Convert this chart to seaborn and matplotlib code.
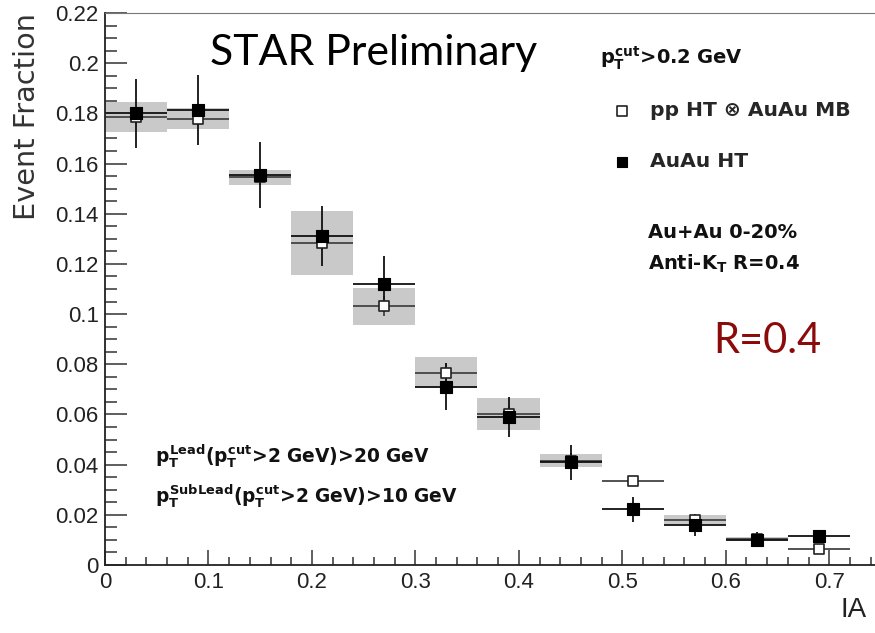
import numpy as np
import pandas as pd
import matplotlib
matplotlib.use("Agg")
import matplotlib.pyplot as plt
import seaborn as sns
from matplotlib.ticker import MultipleLocator, FuncFormatter

# ---------------- data ----------------
ia_bin_centers = [0.03, 0.09, 0.15, 0.21, 0.27, 0.33, 0.39, 0.45, 0.51, 0.57, 0.63, 0.69]
ia_bin_half_width = [0.03] * 12

pp_embed_values = [0.1787, 0.1778, 0.1545, 0.1284, 0.1031, 0.0767, 0.0601, 0.0416, 0.0335, 0.0178, 0.0103, 0.0063]
pp_embed_stat = [0.003, 0.003, 0.003, 0.003, 0.004, 0.004, 0.003, 0.003, 0.001, 0.002, 0.001, 0.001]
pp_embed_sys = [0.0060, 0.0042, 0.0030, 0.0128, 0.0074, 0.0063, 0.0063, 0.0027, 0.0, 0.0020, 0.0008, 0.0]

auau_ht_values = [0.1800, 0.1813, 0.1554, 0.1311, 0.1120, 0.0711, 0.0589, 0.0409, 0.0223, 0.0159, 0.0100, 0.0116]
auau_ht_stat = [0.0138, 0.0140, 0.0130, 0.0120, 0.0110, 0.0093, 0.0079, 0.0070, 0.0050, 0.0045, 0.0030, 0.0024]

legend_labels = ["pp HT \u2297 AuAu MB", "AuAu HT"]
y_ticks_major = 0.02
x_ticks_major = 0.1

df_pp = pd.DataFrame({"IA": ia_bin_centers, "frac": pp_embed_values})
df_au = pd.DataFrame({"IA": ia_bin_centers, "frac": auau_ht_values})

# ---------------- style ----------------
sns.set_theme(style="white")
plt.rcParams["font.family"] = ["Liberation Sans", "DejaVu Sans"]
plt.rcParams["mathtext.fontset"] = "custom"
plt.rcParams["mathtext.rm"] = "DejaVu Sans:bold"
plt.rcParams["mathtext.it"] = "DejaVu Sans:bold"
plt.rcParams["mathtext.bf"] = "DejaVu Sans:bold"

W, H = 875, 633
fig = plt.figure(figsize=(W / 100, H / 100), dpi=100)
ax = fig.add_axes([105 / W, (H - 565) / H, 776 / W, 552 / H])

# systematic boxes (pp HT (x) AuAu MB)
sys_arr = np.array(pp_embed_sys)
ax.bar(ia_bin_centers, 2 * sys_arr, bottom=np.array(pp_embed_values) - sys_arr,
       width=[2 * w for w in ia_bin_half_width], color="#c9c9c9", linewidth=0, zorder=1)

# error bars
ax.errorbar(ia_bin_centers, pp_embed_values, xerr=ia_bin_half_width, yerr=pp_embed_stat,
            fmt="none", ecolor="#444444", elinewidth=1.3, capsize=0, zorder=2)
ax.errorbar(ia_bin_centers, auau_ht_values, xerr=ia_bin_half_width, yerr=auau_ht_stat,
            fmt="none", ecolor="#111111", elinewidth=1.3, capsize=0, zorder=2)

# markers
sns.scatterplot(data=df_pp, x="IA", y="frac", marker="s", s=62, color="white",
                edgecolor="#222222", linewidth=1.2, ax=ax, zorder=3, legend=False)
h_open = ax.collections[-1]
sns.scatterplot(data=df_au, x="IA", y="frac", marker="s", s=70, color="black",
                edgecolor="black", linewidth=0.8, ax=ax, zorder=4, legend=False)
h_fill = ax.collections[-1]

# axes
ax.set_xlim(0, 0.75)
ax.set_ylim(0, 0.22)
ax.xaxis.set_major_locator(MultipleLocator(x_ticks_major))
ax.xaxis.set_minor_locator(MultipleLocator(0.02))
ax.yaxis.set_major_locator(MultipleLocator(y_ticks_major))
ax.yaxis.set_minor_locator(MultipleLocator(0.005))
fmt = FuncFormatter(lambda v, p: "%g" % round(v, 4))
ax.xaxis.set_major_formatter(fmt)
ax.yaxis.set_major_formatter(fmt)

ax.tick_params(axis="y", which="major", direction="in", length=15.5, width=1.1,
               color="#333333", labelsize=16, labelcolor="#222222", pad=4.5, left=True)
ax.tick_params(axis="y", which="minor", direction="in", length=8.5, width=1.1,
               color="#333333", left=True)
ax.tick_params(axis="x", which="major", direction="in", length=10.5, width=1.1,
               color="#333333", labelsize=16, labelcolor="#222222", pad=5, bottom=True)
ax.tick_params(axis="x", which="minor", direction="in", length=5.5, width=1.1,
               color="#333333", bottom=True)

for side in ["left", "bottom"]:
    ax.spines[side].set_color("#222222")
    ax.spines[side].set_linewidth(1.3)
ax.spines["top"].set_color("#777777")
ax.spines["top"].set_linewidth(0.8)
ax.spines["right"].set_visible(False)

ax.set_ylabel("Event Fraction", loc="top", family="DejaVu Sans", fontsize=20.7, color="#333333")
ax.yaxis.set_label_coords(-0.082, 1.0)
ax.set_xlabel("IA", loc="right", fontsize=20, color="#222222")
ax.xaxis.set_label_coords((867 - 105) / 776, -0.058)

# legend
leg = ax.legend([h_open, h_fill], legend_labels, loc="upper left",
                bbox_to_anchor=(612 / W, 1 - 101 / H), bbox_transform=fig.transFigure,
                frameon=False, prop=dict(family="DejaVu Sans", weight="bold", size=14.6),
                handlelength=1.0, handletextpad=0.85, labelspacing=1.6,
                borderpad=0, borderaxespad=0, markerscale=0.85)

# annotations
def ftext(x, y, s, **kw):
    fig.text(x / W, 1 - y / H, s, va="baseline", ha="left", **kw)

ftext(210, 65, "STAR Preliminary", family="Lato", fontsize=30.8, color="black")
ftext(713, 353, "R=0.4", family="Lato", fontsize=30, color="#8b0a0a")

bold = dict(family="DejaVu Sans", weight="bold", fontsize=14, color="#111111")
ftext(600, 64, r"$p_{T}^{cut}$>0.2 GeV", **bold)
ftext(648, 238, "Au+Au 0-20%", **bold)
ftext(648, 270, r"Anti-$K_{T}$ R=0.4", **bold)
small = dict(bold, fontsize=13.4)
ftext(155, 462, r"$p_{T}^{Lead}$($p_{T}^{cut}$>2 GeV)>20 GeV", **small)
ftext(155, 503, r"$p_{T}^{SubLead}$($p_{T}^{cut}$>2 GeV)>10 GeV", **small)

fig.savefig("out.png", dpi=100)
